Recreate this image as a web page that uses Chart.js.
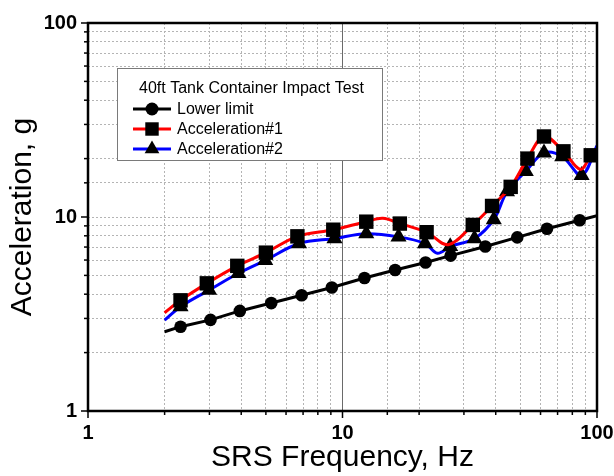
<!DOCTYPE html>
<html>
<head>
<meta charset="utf-8">
<script src="https://cdn.jsdelivr.net/npm/chart.js@4.4.1/dist/chart.umd.min.js"></script>
<style>
  html, body { margin: 0; padding: 0; background: #fff; }
  #wrap { width: 614px; height: 476px; }
</style>
</head>
<body>
<div id="wrap"><canvas id="chart" width="614" height="476"></canvas></div>
<script>
var legendTitle = '40ft Tank Container Impact Test';
var seriesLabels = ['Lower limit', 'Acceleration#1', 'Acceleration#2'];

// marker points (Hz, g)
var lowerFreq = [2.31, 3.03, 3.95, 5.25, 6.91, 9.08, 12.2, 16.1, 21.2, 26.6, 36.4, 48.6, 63.6, 85.5];
var lowerAcc  = [2.72, 2.95, 3.28, 3.6, 3.95, 4.33, 4.85, 5.33, 5.83, 6.32, 7.05, 7.85, 8.7, 9.62];
// ends of the lower limit line (no marker)
var lowerLineFreq = [2, 100];
var lowerLineAcc  = [2.56, 10.15];

var acc1Freq = [2.31, 2.93, 3.86, 5.0, 6.65, 9.2, 12.4, 16.8, 21.4, 32.5, 38.7, 45.8, 53.3, 61.9, 73.8, 94.5];
var acc1Val  = [3.72, 4.55, 5.6, 6.55, 7.95, 8.6, 9.46, 9.25, 8.35, 9.1, 11.4, 14.3, 20.0, 26.0, 21.8, 20.8];
// curve points between markers (start, peak, dips)
var acc1CurveFreq = [2, 14.4, 26, 86];
var acc1CurveVal  = [3.21, 9.84, 7.2, 17.6];

var acc2Freq = [2.31, 2.99, 3.9, 4.97, 6.75, 9.3, 12.4, 16.6, 21.1, 26.5, 33.0, 39.3, 44.3, 52.5, 61.9, 73.0, 87.0];
var acc2Val  = [3.45, 4.2, 5.13, 5.98, 7.3, 7.75, 8.2, 7.9, 7.3, 7.05, 7.75, 9.7, 13.5, 17.2, 21.4, 20.5, 16.4];
var acc2CurveFreq = [2, 23.6, 100];
var acc2CurveVal  = [2.94, 6.5, 23.3];

var fontFamily = '"Liberation Sans", Arial, sans-serif';

function isDecade(v) {
  var l = Math.log10(v);
  return Math.abs(l - Math.round(l)) < 1e-6;
}

function buildPoints(mf, mv, cf, cv) {
  var pts = [];
  for (var i = 0; i < mf.length; i++) pts.push({x: mf[i], y: mv[i], marker: true});
  for (var j = 0; j < cf.length; j++) pts.push({x: cf[j], y: cv[j], marker: false});
  pts.sort(function(a, b) { return a.x - b.x; });
  return pts;
}

function markerRadius(r) {
  return function(ctx) { return ctx.raw && ctx.raw.marker ? r : 0; };
}

function drawMarker(ctx, style, r, x, y) {
  ctx.fillStyle = '#000';
  ctx.beginPath();
  if (style === 'circle') {
    ctx.arc(x, y, r, 0, Math.PI * 2);
  } else if (style === 'rect') {
    var s = r * Math.SQRT1_2;
    ctx.rect(x - s, y - s, 2 * s, 2 * s);
  } else {
    ctx.moveTo(x, y - r);
    ctx.lineTo(x + r * Math.sin(2 * Math.PI / 3), y + r / 2);
    ctx.lineTo(x - r * Math.sin(2 * Math.PI / 3), y + r / 2);
    ctx.closePath();
  }
  ctx.fill();
}

var frameAndTicks = {
  id: 'frameAndTicks',
  afterDatasetsDraw: function(chart) {
    var ctx = chart.ctx, a = chart.chartArea;
    var xs = chart.scales.x, ys = chart.scales.y;
    ctx.save();
    ctx.strokeStyle = '#000';
    ctx.lineWidth = 1.5;
    xs.ticks.forEach(function(t) {
      var px = xs.getPixelForValue(t.value);
      var len = isDecade(t.value) ? 7 : 4;
      ctx.beginPath(); ctx.moveTo(px, a.bottom); ctx.lineTo(px, a.bottom + len); ctx.stroke();
    });
    ys.ticks.forEach(function(t) {
      var py = ys.getPixelForValue(t.value);
      var len = isDecade(t.value) ? 7 : 4;
      ctx.beginPath(); ctx.moveTo(a.left, py); ctx.lineTo(a.left - len, py); ctx.stroke();
    });
    ctx.lineWidth = 2.5;
    ctx.strokeRect(a.left, a.top, a.right - a.left, a.bottom - a.top);
    ctx.restore();
  }
};

var boxLegend = {
  id: 'boxLegend',
  afterDraw: function(chart) {
    var ctx = chart.ctx;
    var bx = 117, by = 68, bw = 265, bh = 92;
    ctx.save();
    ctx.fillStyle = '#fff';
    ctx.fillRect(bx, by, bw, bh);
    ctx.strokeStyle = '#7a7a7a';
    ctx.lineWidth = 1;
    ctx.strokeRect(bx + 0.5, by + 0.5, bw, bh);
    ctx.font = '16px ' + fontFamily;
    ctx.fillStyle = '#000';
    ctx.textBaseline = 'middle';
    ctx.textAlign = 'center';
    ctx.fillText(legendTitle, bx + bw / 2 + 2, by + 21);
    ctx.textAlign = 'left';
    chart.data.datasets.forEach(function(ds, i) {
      var y = by + 41 + i * 20;
      ctx.strokeStyle = ds.borderColor;
      ctx.lineWidth = 3;
      ctx.beginPath(); ctx.moveTo(133, y); ctx.lineTo(171, y); ctx.stroke();
      drawMarker(ctx, ds.pointStyle, ds.legendRadius, 152, y);
      ctx.fillStyle = '#000';
      ctx.fillText(ds.label, 177, y + 1);
    });
    ctx.restore();
  }
};

function makeScale(title, isX) {
  return {
    type: 'logarithmic',
    min: 1,
    max: 100,
    afterFit: function(s) {
      if (isX) {
        s.height = 65;
        s.paddingLeft = 0;
        s.paddingRight = 0;
      } else {
        s.width = 88;
        s.paddingTop = 0;
        s.paddingBottom = 0;
      }
    },
    ticks: {
      autoSkip: false,
      maxRotation: 0,
      padding: isX ? 10 : 11,
      color: '#000',
      font: { family: fontFamily, size: 20, weight: 'bold' },
      callback: function(v) { return isDecade(v) ? String(Math.round(v)) : ''; }
    },
    grid: {
      drawTicks: false,
      color: function(ctx) {
        if (isX && ctx.tick && ctx.tick.value === 10) return '#6a6a6a';
        return '#b4b4b4';
      },
      lineWidth: function(ctx) {
        if (!ctx.tick) return 1;
        return (ctx.tick.value === 1 || ctx.tick.value === 100) ? 0 : 1;
      }
    },
    border: {
      display: false,
      dash: function(ctx) {
        if (isX && ctx.tick && ctx.tick.value === 10) return [];
        return [2, 2];
      }
    },
    title: {
      display: true,
      text: title,
      color: '#000',
      font: { family: fontFamily, size: 30 },
      padding: isX ? { top: 0, bottom: 0 } : { top: 5, bottom: 0 }
    }
  };
}

var datasets = [
  {
    label: seriesLabels[0],
    data: buildPoints(lowerFreq, lowerAcc, lowerLineFreq, lowerLineAcc),
    borderColor: '#000',
    borderWidth: 3,
    tension: 0,
    pointStyle: 'circle',
    legendRadius: 6.5,
    pointRadius: markerRadius(6.3),
    pointBackgroundColor: '#000',
    pointBorderColor: '#000',
    pointBorderWidth: 0
  },
  {
    label: seriesLabels[1],
    data: buildPoints(acc1Freq, acc1Val, acc1CurveFreq, acc1CurveVal),
    borderColor: '#ff0000',
    borderWidth: 3,
    tension: 0.35,
    pointStyle: 'rect',
    legendRadius: 9.5,
    pointRadius: markerRadius(10.2),
    pointBackgroundColor: '#000',
    pointBorderColor: '#000',
    pointBorderWidth: 0
  },
  {
    label: seriesLabels[2],
    data: buildPoints(acc2Freq, acc2Val, acc2CurveFreq, acc2CurveVal),
    borderColor: '#0000ff',
    borderWidth: 3,
    tension: 0.35,
    pointStyle: 'triangle',
    legendRadius: 8.5,
    pointRadius: markerRadius(9.3),
    pointBackgroundColor: '#000',
    pointBorderColor: '#000',
    pointBorderWidth: 0
  }
];

new Chart(document.getElementById('chart').getContext('2d'), {
  type: 'line',
  data: { datasets: datasets },
  options: {
    responsive: false,
    animation: false,
    devicePixelRatio: 1,
    layout: { padding: { top: 23, right: 17, left: 0, bottom: 0 } },
    plugins: { legend: { display: false }, tooltip: { enabled: false } },
    scales: {
      x: makeScale('SRS Frequency, Hz', true),
      y: makeScale('Acceleration, g', false)
    }
  },
  plugins: [frameAndTicks, boxLegend]
});
</script>
</body>
</html>
